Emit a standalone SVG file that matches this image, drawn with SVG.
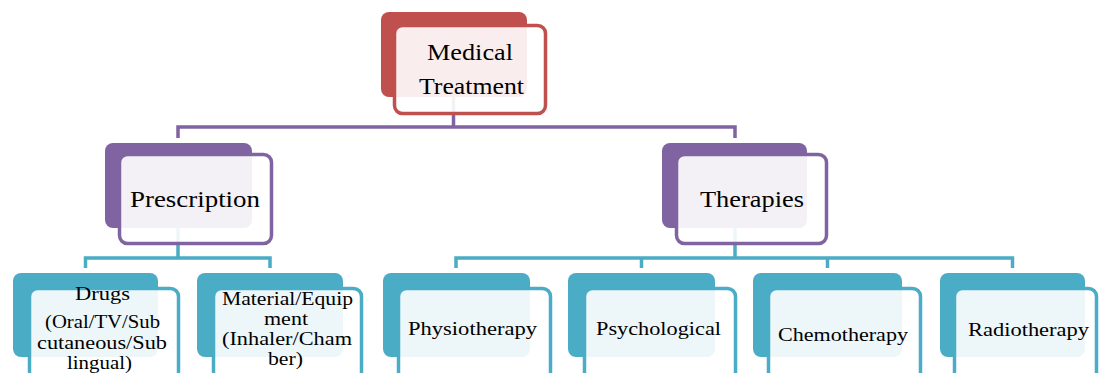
<svg xmlns="http://www.w3.org/2000/svg" width="1099" height="373" viewBox="0 0 1099 373">
<style>
.t{font-family:"Liberation Serif","Times New Roman",serif;fill:#000;text-anchor:middle}
.front{fill:#fff;fill-opacity:0.9;stroke-width:3.5}
.red .back{fill:#c0504d}.red .front{stroke:#c0504d}
.pur .back{fill:#8064a2}.pur .front{stroke:#8064a2}
.teal .back{fill:#4bacc6}.teal .front{stroke:#4bacc6}
.c{fill:none;stroke-width:3.5}
.cp{stroke:#8064a2}.ct{stroke:#4bacc6}
</style>
<rect width="1099" height="373" fill="#fff"/>
<g id="connectors">
<path class="c cp" d="M453.5 97V127M178 138V127H735V138"/>
<path class="c ct" d="M178 228V258M85.5 268V258H270V268"/>
<path class="c ct" d="M735 228V258M456 268V258H1012.5V268M641.5 258V268M827.5 258V268"/>
</g>
<g id="medical-treatment" class="red">
<rect class="back" x="381" y="12" width="146" height="85" rx="8"/>
<rect class="front" x="394.5" y="25.5" width="151" height="88" rx="8"/>
<text class="t" font-size="24" x="470" y="60" textLength="86" lengthAdjust="spacingAndGlyphs">Medical</text>
<text class="t" font-size="24" x="471.5" y="94" textLength="105" lengthAdjust="spacingAndGlyphs">Treatment</text>
</g>
<g id="prescription" class="pur">
<rect class="back" x="105" y="143" width="147" height="85" rx="8"/>
<rect class="front" x="119.5" y="154.5" width="152" height="89" rx="8"/>
<text class="t" font-size="23" x="195" y="207" textLength="130" lengthAdjust="spacingAndGlyphs">Prescription</text>
</g>
<g id="therapies" class="pur">
<rect class="back" x="662" y="143" width="145" height="85" rx="8"/>
<rect class="front" x="676.5" y="154.5" width="150" height="89" rx="8"/>
<text class="t" font-size="23" x="752" y="207" textLength="104" lengthAdjust="spacingAndGlyphs">Therapies</text>
</g>
<g id="drugs" class="teal">
<rect class="back" x="13" y="273" width="145" height="84" rx="8"/>
<rect class="front" x="29.5" y="288.5" width="149" height="92" rx="8"/>
<text class="t" font-size="18" x="102.5" y="300" textLength="55" lengthAdjust="spacingAndGlyphs">Drugs</text>
<text class="t" font-size="18" x="102.5" y="328" textLength="115" lengthAdjust="spacingAndGlyphs">(Oral/TV/Sub</text>
<text class="t" font-size="18" x="102" y="349" textLength="130" lengthAdjust="spacingAndGlyphs">cutaneous/Sub</text>
<text class="t" font-size="18" x="99.5" y="369" textLength="65" lengthAdjust="spacingAndGlyphs">lingual)</text>
</g>
<g id="material-equipment" class="teal">
<rect class="back" x="197" y="273" width="146" height="84" rx="8"/>
<rect class="front" x="213.5" y="288.5" width="148" height="92" rx="8"/>
<text class="t" font-size="18" x="287.5" y="305" textLength="131" lengthAdjust="spacingAndGlyphs">Material/Equip</text>
<text class="t" font-size="18" x="286" y="325" textLength="44" lengthAdjust="spacingAndGlyphs">ment</text>
<text class="t" font-size="18" x="287" y="345" textLength="130" lengthAdjust="spacingAndGlyphs">(Inhaler/Cham</text>
<text class="t" font-size="18" x="285.5" y="365" textLength="35" lengthAdjust="spacingAndGlyphs">ber)</text>
</g>
<g id="physiotherapy" class="teal">
<rect class="back" x="383" y="273" width="147" height="84" rx="8"/>
<rect class="front" x="398.5" y="288.5" width="152" height="92" rx="8"/>
<text class="t" font-size="18" x="472.5" y="335" textLength="129" lengthAdjust="spacingAndGlyphs">Physiotherapy</text>
</g>
<g id="psychological" class="teal">
<rect class="back" x="568" y="273" width="147" height="84" rx="8"/>
<rect class="front" x="584.5" y="288.5" width="151" height="92" rx="8"/>
<text class="t" font-size="18" x="658.5" y="335" textLength="125" lengthAdjust="spacingAndGlyphs">Psychological</text>
</g>
<g id="chemotherapy" class="teal">
<rect class="back" x="753" y="273" width="149" height="84" rx="8"/>
<rect class="front" x="768.5" y="288.5" width="152" height="92" rx="8"/>
<text class="t" font-size="18" x="843" y="341" textLength="130" lengthAdjust="spacingAndGlyphs">Chemotherapy</text>
</g>
<g id="radiotherapy" class="teal">
<rect class="back" x="940" y="273" width="145" height="84" rx="8"/>
<rect class="front" x="954.5" y="288.5" width="142" height="92" rx="8"/>
<text class="t" font-size="18" x="1028.5" y="336" textLength="121" lengthAdjust="spacingAndGlyphs">Radiotherapy</text>
</g>
</svg>
